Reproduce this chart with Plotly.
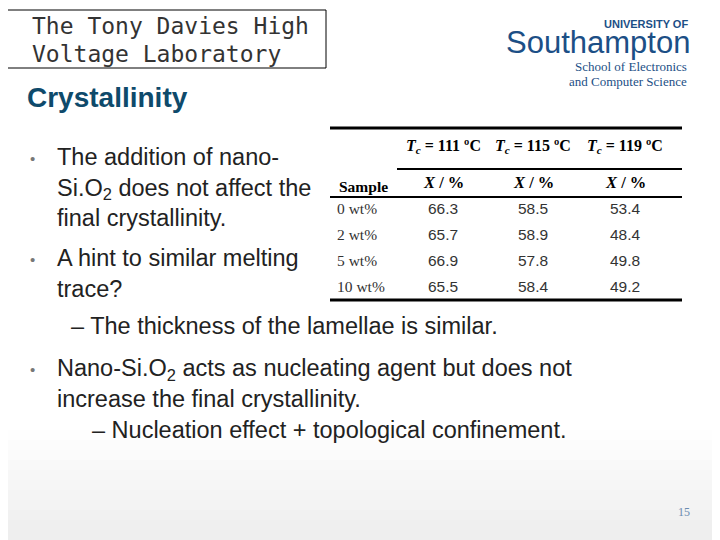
import plotly.graph_objects as go

samples = ["0 wt%", "2 wt%", "5 wt%", "10 wt%"]
tc_labels = ["111", "115", "119"]
x_111 = [66.3, 65.7, 66.9, 65.5]
x_115 = [58.5, 58.9, 57.8, 58.4]
x_119 = [53.4, 48.4, 49.8, 49.2]

fig = go.Figure()
# page body has an 8px margin, so shift the coordinate frame to compensate
fig.update_xaxes(range=[8, 728], visible=False, fixedrange=True)
fig.update_yaxes(range=[548, 8], visible=False, fixedrange=True)
fig.update_layout(width=720, height=540, margin=dict(l=0, r=0, t=0, b=0),
                  plot_bgcolor="white", paper_bgcolor="white", showlegend=False)

SANS = "Liberation Sans, Arial"
SERIF = "Liberation Serif, Times New Roman"

def txt(x, y, s, size, color="#222", font=SANS, anchor="left"):
    fig.add_annotation(x=x, y=y, text=s, showarrow=False, xanchor=anchor, yanchor="middle",
                       align=anchor if anchor != "center" else "center",
                       font=dict(family=font, size=size, color=color))

# bottom grey fade
for i in range(12):
    c = 255 - int(i * 1.6)
    fig.add_shape(type="rect", x0=0, x1=728, y0=420 + i * 10, y1=430 + i * 10,
                  fillcolor=f"rgb({c},{c},{c})", line_width=0, layer="below")

# header box
fig.add_shape(type="rect", x0=-2, x1=326, y0=10, y1=68, line=dict(color="black", width=1))
txt(30, 26, "The Tony Davies High", 23, "#333", "DejaVu Sans Mono")
txt(30, 54, "Voltage Laboratory", 23, "#333", "DejaVu Sans Mono")
txt(25, 97, "<b>Crystallinity</b>", 28, "#0e4a6b")

# logo
blue = "#1c4f86"
txt(690, 24, "<b>UNIVERSITY OF</b>", 11, blue, anchor="right")
txt(692, 42, "Southampton", 31, blue, anchor="right")
txt(689, 66, "School of Electronics", 13, blue, SERIF, "right")
txt(689, 81, "and Computer Science", 13, blue, SERIF, "right")

# bullets
BODY = 23.5
txt(28, 158, "•", 15, "#777")
txt(55, 187, "The addition of nano-<br>Si.O<sub>2</sub> does not affect the<br>final crystallinity.", BODY)
txt(28, 259, "•", 15, "#777")
txt(55, 273, "A hint to similar melting<br>trace?", BODY)
txt(69, 326, "– The thickness of the lamellae is similar.", BODY)
txt(28, 369, "•", 15, "#777")
txt(55, 383, "Nano-Si.O<sub>2</sub> acts as nucleating agent but does not<br>increase the final crystallinity.", BODY)
txt(90, 430, "– Nucleation effect + topological confinement.", BODY)

# table
for y, x0, w in [(128, 330, 3), (169, 397, 2), (197, 330, 2), (300, 330, 3)]:
    fig.add_shape(type="line", x0=x0, x1=682, y0=y, y1=y, line=dict(color="black", width=w))
cols = [443, 533, 625]
for cx, t in zip(cols, tc_labels):
    txt(cx, 146, f"<b><i>T<sub>c</sub></i> = {t} ºC</b>", 16, "black", SERIF, "center")
    txt(cx, 182, "<b><i>X</i> / %</b>", 16.5, "black", SERIF, "center")
txt(337, 186, "<b>Sample</b>", 15.5, "black", SERIF)
row_y = [208, 234, 260, 286]
for i, s in enumerate(samples):
    txt(335, row_y[i], s, 15.5, "#333", SERIF)
    for cx, vals in zip(cols, [x_111, x_115, x_119]):
        txt(cx, row_y[i], f"{vals[i]:.1f}", 15.5, "#333", SANS, "center")

txt(684, 512, "15", 12, "#6a8bb0", SERIF, "center")

fig.write_html("out.html")
